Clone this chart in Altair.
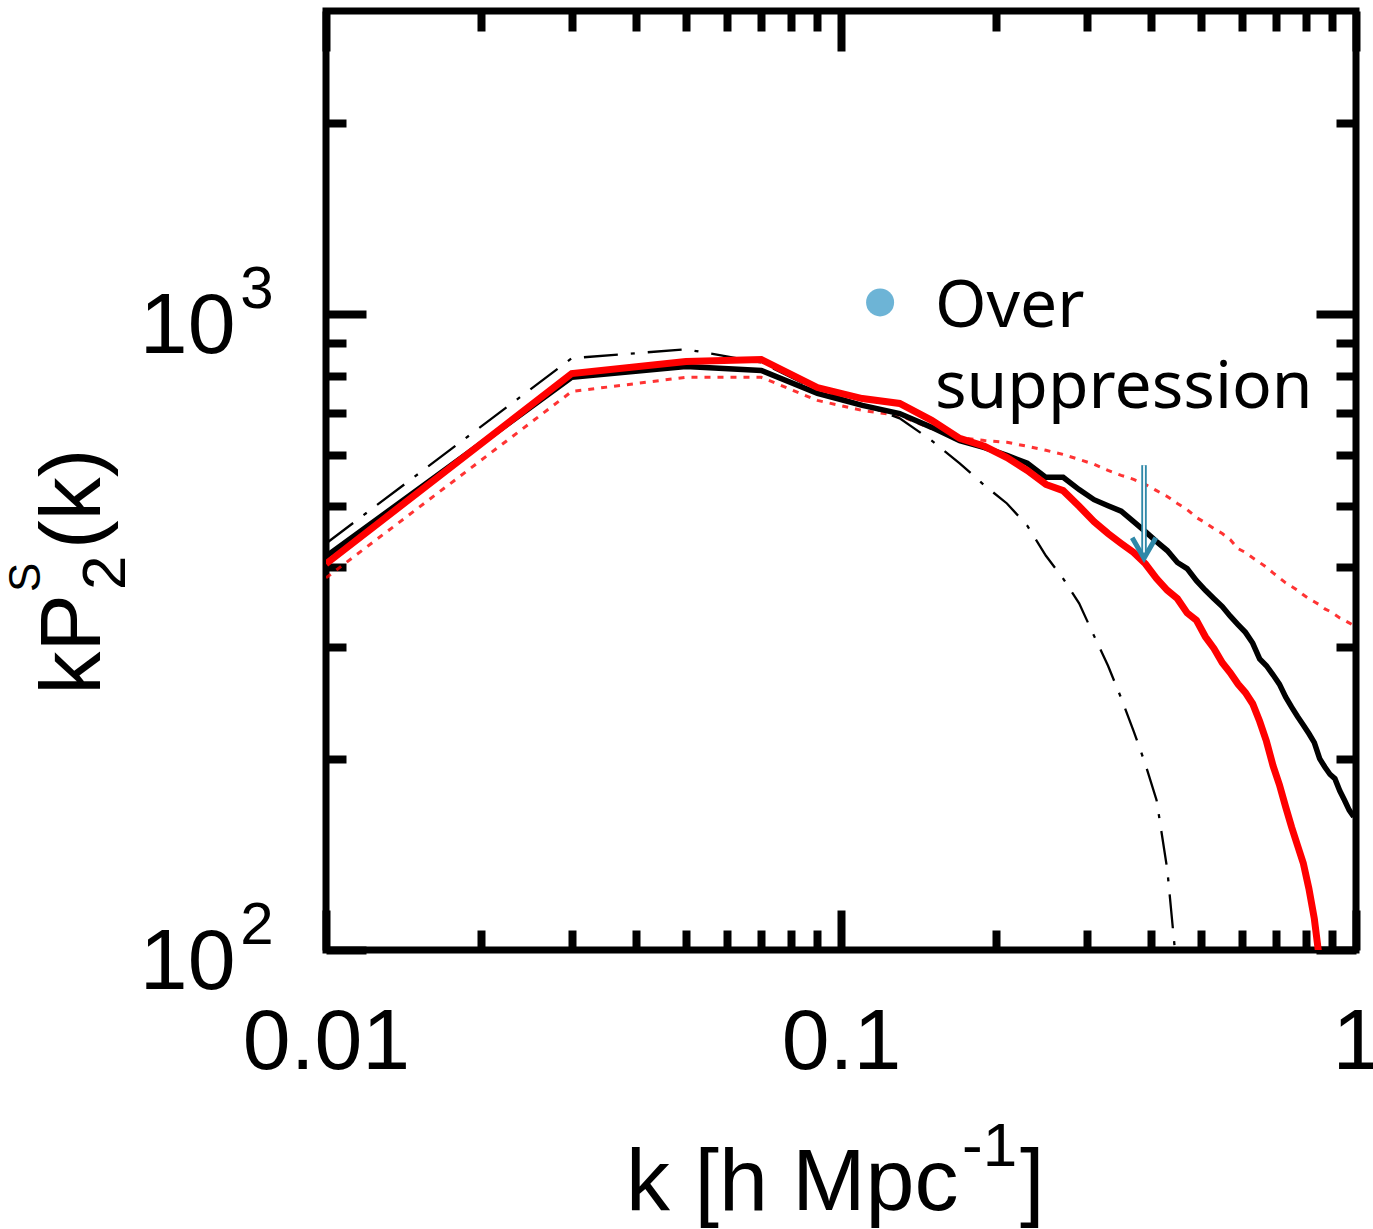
import altair as alt
import pandas as pd

# ---------------- data ----------------
k = [0.01, 0.03, 0.05, 0.07, 0.09, 0.11, 0.13, 0.15, 0.17, 0.19,
     0.21, 0.23, 0.25, 0.27, 0.29, 0.31, 0.33, 0.35, 0.37, 0.39,
     0.41, 0.43, 0.45, 0.47, 0.49, 0.51, 0.53, 0.55, 0.57, 0.59,
     0.61, 0.63, 0.65, 0.67, 0.69, 0.71, 0.73, 0.75, 0.77, 0.79,
     0.81, 0.83, 0.85, 0.87, 0.89, 0.91, 0.93, 0.95, 0.97, 0.99]

# black solid
p_black = [416, 796, 828, 816, 751, 719, 698, 664, 633, 617,
           600, 583, 554, 554, 530, 511, 500, 490, 472, 455,
           439, 425, 407, 398, 381, 368, 357, 347, 335, 325,
           316, 304, 287, 280, 271, 262, 250, 241, 233, 226,
           219, 212, 200, 194, 189, 186, 178, 172, 166, 162]

# red solid (leaves the frame near k = 0.85)
p_red = [405, 807, 843, 849, 767, 737, 724, 681, 638, 620,
         595, 568, 540, 528, 499, 472, 452, 436, 422, 405,
         384, 368, 357, 339, 330, 311, 298, 283, 273, 262,
         254, 244, 229, 213, 195, 182, 168, 156, 146, 137,
         125, 112, 96]

# red dotted
p_dotted = [385, 756, 796, 796, 732, 706, 693, 661, 640, 633,
            629, 620, 611, 602, 591, 581, 568, 558, 550, 540,
            528, 517, 504, 493, 479, 470, 460, 452, 442, 428,
            422, 414, 407, 400, 392, 385, 378, 373, 368, 362,
            357, 353, 349, 344, 341, 337, 333, 330, 327, 324]

# black dash-dot (leaves the frame near k = 0.44)
p_dashdot = [436, 853, 881, 840, 759, 722, 686, 633, 583, 538,
             504, 465, 417, 384, 351, 312, 280, 249, 221, 196,
             172, 134, 91]

x_major = [0.01, 0.1, 1]
x_minor = [0.02, 0.03, 0.04, 0.05, 0.06, 0.07, 0.08, 0.09,
           0.2, 0.3, 0.4, 0.5, 0.6, 0.7, 0.8, 0.9]
y_major = [100, 1000]
y_minor = [200, 300, 400, 500, 600, 700, 800, 900, 2000]
y_label_base = "10"
y_label_exp = {100: "2", 1000: "3"}

x_title = ["k [h Mpc", "-1", "]"]
y_title = ["kP", "2", "S", "(k)"]
annot_lines = ["Over", "suppression"]

# ---------------- layout / style ----------------
W, H = 1030, 939
FONT = "Liberation Sans"
RED = "#ff0000"
TEAL = "#2f88a8"
DOT = "#6db4d6"

xs = alt.Scale(type="log", domain=[0.01, 1], nice=False)
ys = alt.Scale(type="log", domain=[100, 3000], nice=False)


def tick_axis(orient, values, size):
    off = -H if orient in ("top", "bottom") else -W
    return alt.Axis(orient=orient, offset=off, values=values, labels=False,
                    ticks=True, tickSize=size, tickWidth=8, tickColor="black",
                    domain=False, grid=False, title=None)


x_lab_axis = alt.Axis(orient="bottom", values=x_major, format=".2~f",
                      labelFont=FONT, labelFontSize=86, labelColor="black",
                      labelPadding=118, labelBaseline="alphabetic",
                      labelAlign="center", labelFlush=False, labelOverlap=False,
                      ticks=False, tickSize=0, domain=False, grid=False, title=None)
y_lab_axis = alt.Axis(orient="left", values=y_major, labelExpr="'" + y_label_base + "'",
                      labelFont=FONT, labelFontSize=86, labelColor="black",
                      labelPadding=91, labelBaseline="alphabetic", labelAlign="right",
                      labelOffset=38, labelFlush=False, labelOverlap=False,
                      ticks=False, tickSize=0, domain=False, grid=False, title=None)
exp_expr = "datum.value >= 1000 ? '" + y_label_exp[1000] + "' : '" + y_label_exp[100] + "'"
y_exp_axis = alt.Axis(orient="left", values=y_major, labelExpr=exp_expr,
                      labelFont=FONT, labelFontSize=60, labelColor="black",
                      labelPadding=53, labelBaseline="alphabetic", labelAlign="right",
                      labelOffset=-7, labelFlush=False, labelOverlap=False,
                      ticks=False, tickSize=0, domain=False, grid=False, title=None)


def X(axis, field="k"):
    return alt.X(field + ":Q", scale=xs, axis=axis)


def Y(axis, field="P"):
    return alt.Y(field + ":Q", scale=ys, axis=axis)


df_black = pd.DataFrame({"k": k, "P": p_black})
df_red = pd.DataFrame({"k": k[:len(p_red)], "P": p_red})
df_dot = pd.DataFrame({"k": k, "P": p_dotted})
df_dd = pd.DataFrame({"k": k[:len(p_dashdot)], "P": p_dashdot})

dotted = alt.Chart(df_dot).mark_line(color=RED, strokeWidth=3, strokeDash=[6, 7],
                                     clip=True, opacity=0.8).encode(
    x=X(x_lab_axis), y=Y(y_lab_axis))
dashdot = alt.Chart(df_dd).mark_line(color="black", strokeWidth=2.3,
                                     strokeDash=[34, 13, 4, 13], clip=True).encode(
    x=X(tick_axis("top", x_major, 40)), y=Y(y_exp_axis))
black = alt.Chart(df_black).mark_line(color="black", strokeWidth=5.5, clip=True).encode(
    x=X(tick_axis("top", x_minor, 20)), y=Y(tick_axis("right", y_major, 40)))
red = alt.Chart(df_red).mark_line(color=RED, strokeWidth=7, clip=True).encode(
    x=X(tick_axis("bottom", x_major, 40)), y=Y(tick_axis("right", y_minor, 20)))

# annotation: double-shafted arrow, dot and text
df_arrow = pd.DataFrame({"k": [0.3876], "P": [579], "P2": [417]})
shaft = alt.Chart(df_arrow).mark_rule(color=TEAL, strokeWidth=5.5).encode(
    x=X(tick_axis("bottom", x_minor, 20)), y=Y(tick_axis("left", y_major, 40)),
    y2="P2:Q")
shaft_in = alt.Chart(df_arrow).mark_rule(color="white", strokeWidth=1.8).encode(
    x=X(None), y=Y(tick_axis("left", y_minor, 20)), y2="P2:Q")
df_head = pd.DataFrame({"k": [0.3876], "P": [429]})
head = alt.Chart(df_head).mark_point(shape="M-1,-0.87L0,0.87L1,-0.87", filled=False,
                                     size=560, strokeWidth=5, color=TEAL,
                                     opacity=1).encode(x=X(None), y=Y(None))

df_bullet = pd.DataFrame({"k": [0.1191], "P": [1044]})
bullet = alt.Chart(df_bullet).mark_circle(size=784, color=DOT, opacity=1).encode(
    x=X(None), y=Y(None))
df_annot = pd.DataFrame({"k": [0.1522, 0.1522], "P": [954, 712], "t": annot_lines})
annot = alt.Chart(df_annot).mark_text(font="Noto Sans", fontSize=66, align="left",
                                      baseline="alphabetic", color="black").encode(
    x=X(None), y=Y(None), text="t:N")


def label(text, x, y, size, align="left", angle=0):
    d = pd.DataFrame({"t": [text]})
    props = dict(font=FONT, fontSize=size, align=align, baseline="alphabetic",
                 color="black")
    if angle:
        props["angle"] = angle
    return alt.Chart(d).mark_text(**props).encode(
        x=alt.value(x), y=alt.value(y), text="t:N")


titles = [
    label(x_title[0], 300, 1199, 88),
    label(x_title[1], 636, 1155, 62),
    label(x_title[2], 694, 1199, 88),
    label(y_title[0], -226, 583, 86, align="right", angle=270),
    label(y_title[1], -201, 579, 62, angle=270),
    label(y_title[2], -286, 581, 44, angle=270),
    label(y_title[3], -226, 538, 86, angle=270),
]

chart = alt.layer(dotted, dashdot, black, red, shaft, shaft_in, head, bullet, annot,
                  *titles).resolve_axis(
    x="independent", y="independent"
).properties(
    width=W, height=H,
    padding={"left": 326, "top": 11, "right": 17, "bottom": 279},
    autosize=alt.AutoSizeParams(type="none"),
    background="white",
).configure_view(stroke="black", strokeWidth=7)

chart.save("out.html", embed_options={"renderer": "svg", "actions": False})
